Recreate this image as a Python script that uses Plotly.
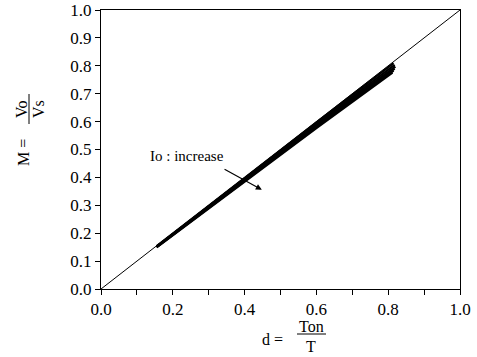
import plotly.graph_objects as go

# Ideal (lossless) relation M = d
ideal_d = [0.0, 1.0]
ideal_M = [0.0, 1.0]

io_d = [
    [0.155, 0.40, 0.60, 0.815],
    [0.155, 0.40, 0.60, 0.818],
    [0.155, 0.40, 0.60, 0.820],
    [0.155, 0.40, 0.60, 0.818],
    [0.155, 0.40, 0.60, 0.815],
    [0.155, 0.40, 0.60, 0.812],
]
io_M = [
    [0.154, 0.399, 0.597, 0.810],
    [0.153, 0.396, 0.593, 0.803],
    [0.152, 0.393, 0.589, 0.797],
    [0.151, 0.390, 0.585, 0.790],
    [0.150, 0.387, 0.581, 0.783],
    [0.149, 0.384, 0.577, 0.776],
]

x_ticks = [0.0, 0.2, 0.4, 0.6, 0.8, 1.0]
x_tick_text = ["0.0", "0.2", "0.4", "0.6", "0.8", "1.0"]
y_ticks = [0.0, 0.1, 0.2, 0.3, 0.4, 0.5, 0.6, 0.7, 0.8, 0.9, 1.0]
y_tick_text = ["0.0", "0.1", "0.2", "0.3", "0.4", "0.5", "0.6", "0.7", "0.8", "0.9", "1.0"]

FONT = "Liberation Serif, Times New Roman, serif"

fig = go.Figure()
fig.add_trace(go.Scatter(x=ideal_d, y=ideal_M, mode="lines",
                         line=dict(color="black", width=1), showlegend=False))
for dx, my in zip(io_d, io_M):
    fig.add_trace(go.Scatter(x=dx, y=my, mode="lines",
                             line=dict(color="black", width=2.2), showlegend=False))

fig.update_layout(
    template="none",
    width=477, height=357,
    margin=dict(l=101, r=17, t=10, b=68, autoexpand=False),
    paper_bgcolor="white", plot_bgcolor="white",
    font=dict(family=FONT, color="black", size=16),
)
tf = dict(family=FONT, size=17, color="black")
fig.update_xaxes(
    range=[0, 1], tickmode="array", tickvals=x_ticks, ticktext=x_tick_text,
    ticks="outside", ticklen=5, tickcolor="black", tickwidth=1,
    minor=dict(dtick=0.1, tick0=0, ticks="outside", ticklen=5, tickcolor="black", tickwidth=1,
               showgrid=False),
    showline=True, linecolor="black", linewidth=1, mirror=True, automargin=False,
    showgrid=False, zeroline=False, tickfont=tf,
)
fig.update_yaxes(
    range=[0, 1], tickmode="array", tickvals=y_ticks, ticktext=y_tick_text,
    ticks="outside", ticklen=5, tickcolor="black", tickwidth=1,
    showline=True, linecolor="black", linewidth=1, mirror=True, automargin=False,
    showgrid=False, zeroline=False, tickfont=tf,
)

# Arrow and label "Io : increase"
fig.add_annotation(x=0.448, y=0.356, ax=0.340, ay=0.432, xref="x", yref="y",
                   axref="x", ayref="y", text="", showarrow=True,
                   arrowhead=2, arrowsize=1, arrowwidth=1.2, arrowcolor="black")
fig.add_annotation(x=0.24, y=0.475, xref="x", yref="y", text="Io : increase",
                   xanchor="center", yanchor="middle",
                   showarrow=False, font=dict(family=FONT, size=15, color="black"))

# Axis label helpers (pixel -> paper coordinates)
pw, ph = 359.0, 279.0
def px(xp):
    return (xp - 101) / pw
def py(yp):
    return (289 - yp) / ph

def lab(x, y, text, angle=0):
    fig.add_annotation(x=px(x), y=py(y), xref="paper", yref="paper", text=text,
                       xanchor="center", yanchor="middle", textangle=angle,
                       showarrow=False, font=dict(family=FONT, size=16, color="black"))

# X axis label: d = Ton / T
lab(272, 339, "d =")
lab(311, 326, "Ton")
lab(311, 346, "T")
fig.add_shape(type="line", xref="paper", yref="paper",
              x0=px(297), x1=px(326), y0=py(334), y1=py(334),
              line=dict(color="black", width=1))

# Y axis label: M = Vo / Vs (rotated)
lab(23, 153, "M =", -90)
lab(21, 109, "Vo", -90)
lab(38, 109, "Vs", -90)
fig.add_shape(type="line", xref="paper", yref="paper",
              x0=px(29), x1=px(29), y0=py(94), y1=py(124),
              line=dict(color="black", width=1))

fig.write_html("out.html")
